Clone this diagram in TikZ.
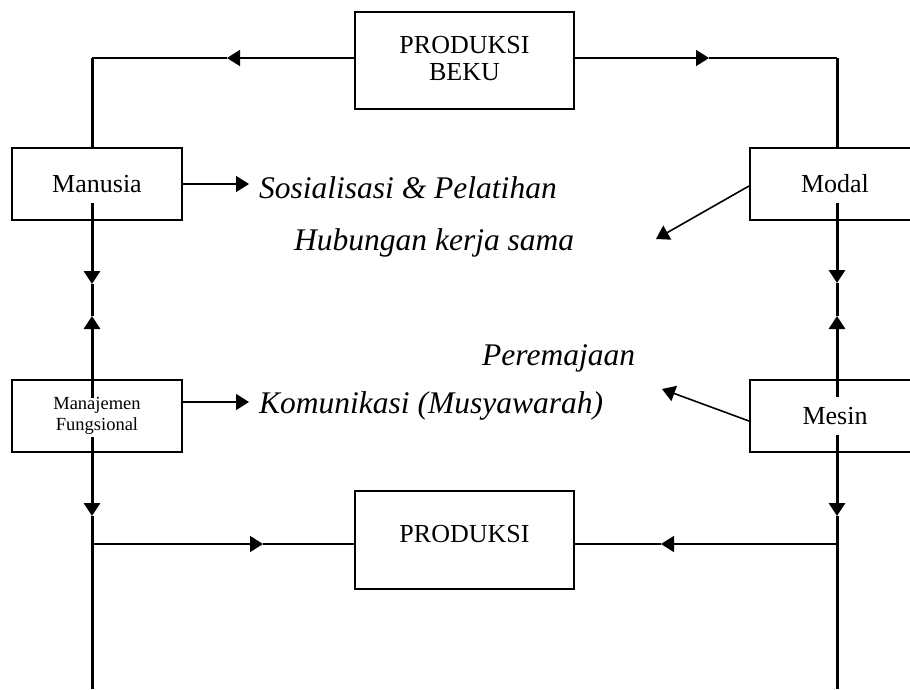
\documentclass[tikz,border=0pt]{standalone}
\usepackage{fontspec}
\setmainfont{Liberation Serif}
\usetikzlibrary{arrows.meta}
\begin{document}
\begin{tikzpicture}[x=1pt,y=-1pt,
  box/.style={draw,line width=1.6pt,inner sep=0pt,font=\fontsize{26}{30}\selectfont,align=center},
  thinline/.style={line width=1.6pt},
  thickline/.style={line width=3pt},
  tri/.style={-{Triangle[length=13pt,width=16pt]}},
  lbl/.style={anchor=base west,inner sep=0pt,font=\fontsize{31.5}{36}\selectfont\itshape}]
\useasboundingbox (0,0) rectangle (910,689);
% boxes
\node[box,minimum width=219pt,minimum height=97pt] (beku) at (464.5,60.5) {\raisebox{4pt}{\begin{tabular}{@{}c@{}}PRODUKSI\\[-3pt]BEKU\end{tabular}}};
\node[box,minimum width=219pt,minimum height=98pt] (prod) at (464.5,540) {\raisebox{12pt}{PRODUKSI}};
\node[box,minimum width=170pt,minimum height=72pt] (manusia) at (97,184) {Manusia};
\node[box,minimum width=170pt,minimum height=72pt] (modal) at (835,184) {Modal};
\node[box,minimum width=170pt,minimum height=72pt,font=\fontsize{18.5}{21}\selectfont] (manaj) at (97,416) {Manajemen\\Fungsional};
\node[box,minimum width=170pt,minimum height=72pt] (mesin) at (835,416) {Mesin};
% text labels
\node[lbl] (sos) at (259,198) {Sosialisasi \& Pelatihan};
\node[lbl] (hub) at (294,250) {Hubungan kerja sama};
\node[lbl] (per) at (482,365) {Peremajaan};
\node[lbl] (kom) at (259,413) {Komunikasi (Musyawarah)};
% coordinates
\coordinate (tl) at (92,58);
\coordinate (tr) at (837,58);
\coordinate (bl) at (92,689);
\coordinate (br) at (837,689);
\coordinate (tla) at (227,58);
\coordinate (tra) at (709,58);
\coordinate (trs) at (662,58);
\coordinate (bla) at (263,544);
\coordinate (bls) at (205,544);
\coordinate (bra) at (661,544);
\coordinate (brs) at (735,544);
\coordinate (bll) at (92,544);
\coordinate (brr) at (837,544);
\coordinate (l1) at (92,203);
\coordinate (l2) at (92,284);
\coordinate (l3) at (92,316);
\coordinate (l4) at (92,398);
\coordinate (l5) at (92,437);
\coordinate (l6) at (92,516);
\coordinate (r1) at (837,203);
\coordinate (r2) at (837,283);
\coordinate (r3) at (837,316);
\coordinate (r4) at (837,397);
\coordinate (r5) at (837,435);
\coordinate (r6) at (837,516);
\coordinate (manr) at (182,184);
\coordinate (mant) at (249,184);
\coordinate (mjr) at (182,402);
\coordinate (mjt) at (249,402);
\coordinate (modl) at (749,186);
\coordinate (modt) at (656,239);
\coordinate (mesl) at (749,421);
\coordinate (mest) at (662,389);
% top connectors
\draw[thinline,tri] (beku.west |- tl) -- (tla);
\draw[thinline] (tla) -- (tl);
\draw[thinline,tri] (beku.east |- tr) -- (tra);
\draw[line width=2.4pt] (trs) -- ([xshift=-12pt]tra);
\draw[thinline] (tra) -- (tr);
% bottom connectors
\draw[thinline,tri] (bll) -- (bla);
\draw[line width=2.4pt] (bls) -- ([xshift=-12pt]bla);
\draw[thinline] (bla) -- (prod.west |- bla);
\draw[thinline,tri] (brr) -- (bra);
\draw[line width=2.4pt] (brs) -- ([xshift=12pt]bra);
\draw[thinline] (bra) -- (prod.east |- bra);
% left vertical
\draw[thickline] (tl) -- (tl |- manusia.north);
\draw[thickline,tri] (l1) -- (l2);
\draw[thickline] (l2) -- (l3);
\draw[thickline,tri] (l4) -- (l3);
\draw[thickline,tri] (l5) -- (l6);
\draw[thickline] (l6) -- (bl);
% right vertical
\draw[thickline] (tr) -- (tr |- modal.north);
\draw[thickline,tri] (r1) -- (r2);
\draw[thickline] (r2) -- (r3);
\draw[thickline,tri] (r4) -- (r3);
\draw[thickline,tri] (r5) -- (r6);
\draw[thickline] (r6) -- (br);
% side arrows
\draw[thinline,tri] (manr) -- (mant);
\draw[thinline,tri] (mjr) -- (mjt);
\draw[thinline,tri] (modl) -- (modt);
\draw[thinline,tri] (mesl) -- (mest);
\end{tikzpicture}
\end{document}
